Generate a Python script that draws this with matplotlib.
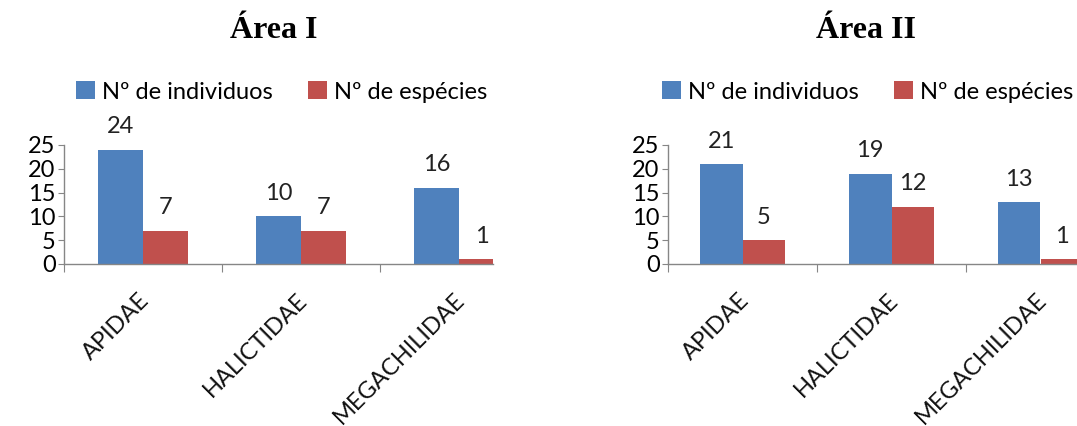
import matplotlib
matplotlib.use('Agg')
from matplotlib import pyplot as plt
import numpy as np

# dados
familias = ['APIDAE', 'HALICTIDAE', 'MEGACHILIDAE']
individuos_1 = [24, 10, 16]
especies_1 = [7, 7, 1]
individuos_2 = [21, 19, 13]
especies_2 = [5, 12, 1]
titulos = ['Área I', 'Área II']
legenda = ['Nº de individuos', 'Nº de espécies']

azul = '#4F81BD'
vermelho = '#C0504D'
cinza = '#868686'

plt.rcParams['font.family'] = ['Lato', 'DejaVu Sans']

fig = plt.figure(figsize=(10.77, 4.26), dpi=100)


def desenha(rect, xmax, individuos, especies, titulo, leg_x, tit_x):
    ax = fig.add_axes(rect)
    x = np.arange(len(familias))
    w = 1 / 3.5
    b1 = ax.bar(x - w / 2, individuos, w, color=azul, label=legenda[0])
    b2 = ax.bar(x + w / 2, especies, w, color=vermelho, label=legenda[1])
    for bars in (b1, b2):
        for b in bars:
            ax.annotate(str(int(b.get_height())),
                        (b.get_x() + b.get_width() / 2, b.get_height()),
                        xytext=(0, 9), textcoords='offset points',
                        ha='center', va='bottom', fontsize=17, color='#222222')
    ax.set_yticks(range(0, 26, 5))
    ax.tick_params(axis='y', labelsize=17, length=4, color=cinza, pad=2)
    # marcas nos limites das categorias
    ax.set_xticks([-0.5, 0.5, 1.5, 2.5])
    ax.set_xticklabels([])
    ax.tick_params(axis='x', length=6, color=cinza)
    ax.set_xlim(-0.5, xmax)
    ax.set_ylim(0, 25)
    for i, nome in enumerate(familias):
        ax.text(i - 0.03, -5.3, nome, rotation=45, ha='right', va='top',
                rotation_mode='anchor', fontsize=17, color='#111111')
    for s in ('top', 'right'):
        ax.spines[s].set_visible(False)
    for s in ('left', 'bottom'):
        ax.spines[s].set_color(cinza)
        ax.spines[s].set_linewidth(1)
    fig.text(tit_x, 1 - 30 / 426, titulo, ha='center', va='center',
             fontsize=23, fontweight='bold', family='Liberation Serif')
    fig.legend(handles=[b1, b2], labels=legenda, loc='center',
               bbox_to_anchor=(leg_x, 1 - 92 / 426), ncol=2, frameon=False,
               fontsize=17, handlelength=0.8, handleheight=0.8,
               handletextpad=0.3, columnspacing=1.5)
    return ax


desenha([64 / 1077, 1 - 264 / 426, 429 / 1077, 119 / 426], -0.5 + 429 / 158,
        individuos_1, especies_1, titulos[0], 282 / 1077, 274 / 1077)
desenha([668 / 1077, 1 - 264 / 426, 409 / 1077, 119 / 426], -0.5 + 409 / 149,
        individuos_2, especies_2, titulos[1], 868 / 1077, 866 / 1077)

plt.savefig('out.png', dpi=100)
